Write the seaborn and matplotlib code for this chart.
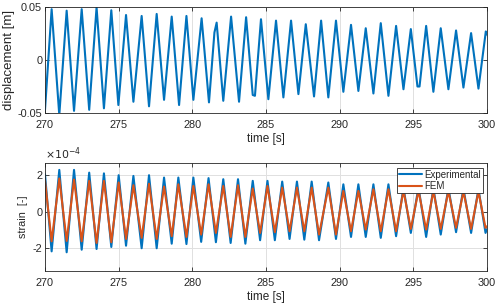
import matplotlib
matplotlib.use('Agg')
import matplotlib.pyplot as plt
import pandas as pd
import seaborn as sns

# displacement extrema (time [s], displacement [m])
disp_time = [270.0, 270.45, 270.97, 271.47, 271.97, 272.49, 273.0, 273.5, 274.0, 274.5, 274.98,
             275.5, 276.0, 276.56, 277.06, 277.58, 278.08, 278.6, 279.1, 279.6, 280.07, 280.63,
             281.13, 281.5, 281.65, 282.1, 282.63, 283.17, 283.65, 284.1, 284.25, 284.66, 285.16,
             285.68, 286.18, 286.7, 287.2, 287.7, 288.26, 288.74, 289.23, 289.75, 290.25, 290.77,
             291.27, 291.77, 292.29, 292.79, 293.31, 293.83, 294.33, 294.83, 295.28, 295.42,
             295.87, 296.36, 296.86, 297.38, 297.9, 298.4, 298.92, 299.42, 299.92, 300.0]
disp_val = [-0.047, 0.048, -0.052, 0.0466, -0.048, 0.048, -0.047, 0.0497, -0.0456, 0.047, -0.0425,
            0.0425, -0.0394, 0.0416, -0.0437, 0.0435, -0.0376, 0.041, -0.0425, 0.0416, -0.0376, 0.0394,
            -0.040, 0.026, 0.0353, -0.0385, 0.041, -0.0394, 0.0404, -0.033, -0.0338, 0.0385, -0.037,
            0.0372, -0.0353, 0.0372, -0.0322, 0.0338, -0.0344, 0.0372, -0.0353, 0.0372, -0.030, 0.0332,
            -0.0292, 0.030, -0.0316, 0.0348, -0.0338, 0.0322, -0.0276, 0.0292, -0.025, -0.025,
            0.0322, -0.030, 0.030, -0.0276, 0.0279, -0.026, 0.0254, -0.027, 0.027, 0.024]

# strain extrema, bottom panel (values in 1e-4)
exp_time = [270.0, 270.45, 270.97, 271.47, 271.97, 272.49, 273.0, 273.5, 274.0, 274.5, 275.0,
            275.5, 276.0, 276.56, 277.06, 277.58, 278.08, 278.6, 279.05, 279.6, 280.07, 280.6,
            281.1, 281.6, 282.1, 282.6, 283.1, 283.6, 284.1, 284.6, 285.1, 285.6, 286.1, 286.6,
            287.1, 287.6, 288.1, 288.6, 289.23, 289.75, 290.25, 290.77, 291.27, 291.77, 292.29,
            292.79, 293.31, 293.83, 294.33, 294.83, 295.35, 295.87, 296.36, 296.86, 297.38, 297.9,
            298.4, 298.92, 299.42, 299.9, 300.0]
exp_val = [2.05, -2.17, 2.29, -2.22, 2.29, -2.08, 2.14, -2.04, 2.10, -1.93, 2.00,
           -1.86, 1.96, -2.00, 2.00, -2.00, 1.87, -1.75, 1.87, -1.77, 1.87, -1.65,
           1.84, -1.67, 1.78, -1.71, 1.78, -1.75, 1.69, -1.56, 1.69, -1.56, 1.65, -1.49,
           1.65, -1.53, 1.65, -1.56, 1.60, -1.49, 1.50, -1.38, 1.50, -1.38, 1.50,
           -1.43, 1.50, -1.34, 1.32, -1.16, 1.35, -1.38, 1.30, -1.25, 1.30, -1.12,
           1.28, -1.16, 1.25, -1.16, -0.95]

fem_time = exp_time
fem_val = [1.69, -1.62, 1.82, -1.60, 1.76, -1.62, 1.69, -1.71, 1.69, -1.67, 1.60,
           -1.49, 1.45, -1.43, 1.53, -1.49, 1.38, -1.34, 1.50, -1.38, 1.41, -1.25,
           1.50, -1.16, 1.41, -1.38, 1.45, -1.38, 1.27, -1.16, 1.41, -1.12, 1.32, -1.07,
           1.32, -1.07, 1.32, -1.25, 1.32, -1.25, 1.14, -1.07, 1.14, -0.98, 1.23,
           -1.07, 1.23, -1.07, 1.15, -0.94, 1.15, -0.98, 1.12, -0.94, 1.12, -0.88,
           1.10, -0.94, 1.10, -0.88, -0.80]

blue = '#0072BD'
orange = '#D95319'
ink = '#262626'

sns.set_theme(style='whitegrid')
plt.rcParams['font.family'] = ['Liberation Sans', 'DejaVu Sans']

fig = plt.figure(figsize=(5, 3.07), dpi=100)
ax1 = fig.add_axes([0.09, 0.632, 0.884, 0.345])
ax2 = fig.add_axes([0.09, 0.117, 0.884, 0.351])

disp_df = pd.DataFrame({'time': disp_time, 'disp': disp_val})
sns.lineplot(data=disp_df, x='time', y='disp', ax=ax1, color=blue, lw=1.5, sort=False,
             solid_joinstyle='round')

strain_df = pd.DataFrame({'time': exp_time + fem_time,
                          'strain': [v * 1e-4 for v in exp_val] + [v * 1e-4 for v in fem_val],
                          'series': ['Experimental'] * len(exp_val) + ['FEM'] * len(fem_val)})
sns.lineplot(data=strain_df, x='time', y='strain', hue='series', ax=ax2,
             palette=[blue, orange], lw=1.5, sort=False, solid_joinstyle='round')

for ax in (ax1, ax2):
    ax.set_facecolor('white')
    ax.set_xlim(270, 300)
    ax.set_xticks([270, 275, 280, 285, 290, 295, 300])
    ax.grid(True, color='#e0e0e0', lw=0.7)
    for s in ax.spines.values():
        s.set_color(ink)
        s.set_linewidth(0.6)
    ax.tick_params(direction='in', length=3, width=0.6, colors=ink, labelsize=7.8,
                   top=True, right=True, bottom=True, left=True)
    ax.tick_params(axis='x', pad=5)
    ax.tick_params(axis='y', pad=2)
    ax.set_xlabel('time [s]', fontsize=8.5, color=ink, labelpad=2)

ax1.set_ylim(-0.05, 0.05)
ax1.set_yticks([-0.05, 0, 0.05])
ax1.set_yticklabels(['-0.05', '0', '0.05'])
ax1.set_ylabel('displacement [m]', fontsize=9.5, color=ink)
ax1.yaxis.set_label_coords(-0.068, 0.5)

ax2.set_ylim(-3.25e-4, 2.65e-4)
ax2.set_yticks([-2e-4, 0, 2e-4])
ax2.set_yticklabels(['-2', '0', '2'])
ax2.set_ylabel('strain  [-]', fontsize=7.8, color=ink)
ax2.yaxis.set_label_coords(-0.038, 0.5)
ax2.text(0.0, 1.01, r'$\times10^{-4}$', transform=ax2.transAxes, fontsize=7.8,
         color=ink, ha='left', va='bottom')

leg = ax2.legend(loc='upper right', frameon=True, fontsize=7, handlelength=2.4,
                 borderpad=0.2, labelspacing=0.15, handletextpad=0.2, borderaxespad=0.45,
                 fancybox=False, framealpha=1)
leg.set_title(None)
leg.get_frame().set_edgecolor(ink)
leg.get_frame().set_linewidth(0.6)

fig.savefig('out.png', dpi=100)
